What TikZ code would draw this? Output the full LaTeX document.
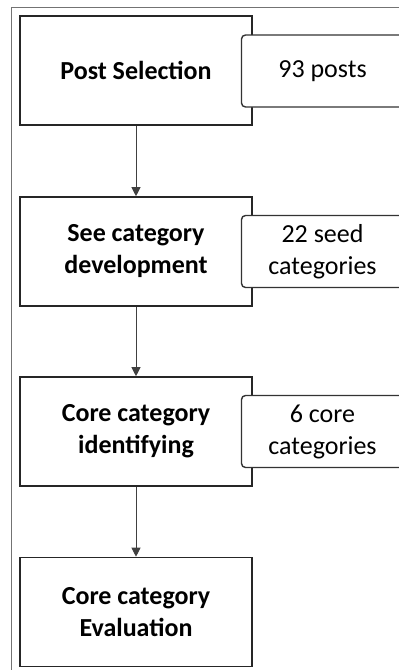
\documentclass[tikz,border=0pt]{standalone}
\usepackage{fontspec}
\setmainfont{Carlito}
\usepackage{tikz}
\usetikzlibrary{arrows.meta}
\usetikzlibrary{positioning}
\tikzset{>=Triangle}
\tikzstyle{stage} = [rectangle, draw=black!85, line width=1.6pt, fill=white, minimum width=232pt, minimum height=109pt, align=center, font=\fontsize{26}{32}\selectfont\bfseries]
\tikzstyle{tally} = [rectangle, rounded corners=4pt, draw=black!80, line width=1.4pt, fill=white, minimum width=162pt, minimum height=72pt, align=center, font=\fontsize{26}{32}\selectfont]
\tikzstyle{flow} = [-{Triangle[width=9pt,length=9pt]}, draw=black!75, line width=0.9pt]

\begin{document}
\begin{tikzpicture}[x=1pt, y=1pt]
\useasboundingbox (0,0) rectangle (399,-670);
\draw [draw=black!55, line width=1pt] (11,-670) -- (11,-7) -- (399,-7);
% main steps
\node [stage] (sel) at (136, -70.5) {Post Selection};
\node [stage] (seed) at (136, -251.5) {See category\\development};
\node [stage] (ident) at (136, -431.5) {Core category\\identifying};
\node [stage] (eval) at (136, -612) {Core category\\Evaluation};
% counts beside each step
\node [tally] (posts) at (322.5, -71) {93 posts};
\node [tally] (seedcat) at (322.5, -251.5) {22 seed\\categories};
\node [tally] (corecat) at (322.5, -431.5) {6 core\\categories};
\draw [flow] (sel) to (seed);
\draw [flow] (seed) to (ident);
\draw [flow] (ident) to (eval);
\end{tikzpicture}
\end{document}
